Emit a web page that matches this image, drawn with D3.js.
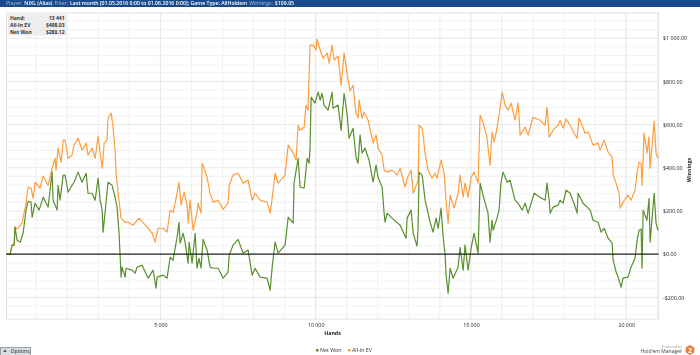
<!DOCTYPE html>
<html>
<head>
<meta charset="utf-8">
<script src="https://cdnjs.cloudflare.com/ajax/libs/d3/7.8.5/d3.min.js"></script>
<style>
  html, body { margin: 0; padding: 0; background: #fff; overflow: hidden; }
  text { font-family: "Open Sans", "DejaVu Sans", sans-serif; }
  #chart { filter: blur(0.3px); }
</style>
</head>
<body>
<svg id="chart"></svg>
<script>
// Values
const netHands = [30,160,225,290,320,385,485,580,675,740,835,870,965,1095,1225,1385,1515,1545,1675,1705,1770,1870,1930,2030,2155,2220,2350,2480,2610,2670,2800,2900,2995,3060,3125,3155,3220,3315,3445,3540,3605,3670,3735,3765,3865,3895,4090,4185,4250,4410,4605,4765,4860,4895,5090,5215,5315,5410,5475,5540,5600,5635,5730,5795,5895,5925,6020,6120,6180,6245,6310,6375,6505,6600,6700,6860,7020,7180,7215,7340,7500,7665,7825,7955,8050,8210,8435,8535,8600,8695,8790,9015,9115,9275,9305,9435,9500,9630,9725,9790,9820,9855,9980,10080,10145,10205,10270,10400,10530,10560,10720,10820,10915,11010,11075,11205,11300,11365,11430,11495,11590,11720,11850,11945,12010,12140,12205,12235,12300,12460,12720,12910,12945,13075,13140,13265,13300,13330,13430,13525,13620,13685,13780,13880,13945,14040,14105,14170,14200,14265,14330,14425,14585,14650,14750,14810,14910,15005,15100,15230,15295,15390,15550,15615,15680,15715,15840,15905,15970,16035,16165,16260,16420,16520,16650,16745,16840,16970,17035,17225,17390,17450,17520,17550,17645,17805,17870,17970,18065,18195,18320,18420,18450,18610,18840,18935,19095,19190,19290,19415,19545,19580,19675,19740,19835,19900,20060,20155,20285,20350,20415,20480,20510,20545,20670,20735,20770,20900,20960,21025];
const netValues = [0,0,42,42,125,65,55,97,204,245,241,171,236,204,264,218,380,250,204,319,250,366,366,287,319,333,380,333,375,282,282,250,352,250,204,102,194,333,319,264,218,97,-106,-60,-106,-65,-74,-88,-60,-51,-111,-74,-157,-106,-97,-111,-14,-28,28,79,148,51,97,56,-42,56,-42,97,-65,-19,-65,69,19,-60,-65,-65,-111,-83,-5,42,69,5,19,-97,-65,-106,-111,-167,-60,56,5,42,171,144,329,444,310,306,444,421,495,727,699,750,713,745,690,667,750,676,690,574,745,653,537,583,449,421,551,468,491,435,333,412,356,310,190,148,190,167,134,74,167,204,97,37,125,380,366,250,190,148,102,167,120,213,79,-5,-97,-181,-65,-111,-60,32,-74,42,-74,28,97,5,329,273,190,56,157,111,167,204,333,380,333,343,250,236,204,236,190,250,282,264,250,329,250,190,218,227,250,236,296,282,236,190,282,236,204,157,148,102,120,74,51,-28,-83,-106,-153,-111,-106,-60,-19,65,111,116,-65,204,157,259,56,282,144,111];

const evHands = [30,160,225,290,320,385,545,675,710,740,835,900,965,1125,1225,1385,1515,1610,1640,1705,1805,1870,1930,2030,2155,2220,2350,2480,2610,2670,2800,2900,2995,3125,3190,3285,3315,3415,3480,3540,3575,3640,3735,3865,3960,4120,4315,4570,4735,4830,4925,5090,5215,5315,5410,5475,5600,5665,5765,5860,5895,5955,6055,6180,6215,6310,6345,6505,6600,6700,6860,7020,7180,7215,7340,7500,7665,7825,7955,8050,8210,8435,8535,8600,8695,8790,9015,9115,9275,9370,9435,9500,9630,9690,9755,9820,9920,10015,10045,10145,10240,10370,10435,10530,10595,10720,10820,10915,11045,11110,11205,11300,11365,11400,11495,11560,11690,11850,11945,12010,12140,12205,12300,12460,12620,12720,12880,12945,13075,13140,13265,13300,13330,13430,13525,13620,13750,13845,13910,14040,14135,14200,14265,14330,14460,14585,14650,14750,14810,14910,15005,15100,15230,15295,15390,15520,15615,15680,15745,15840,15940,16005,16100,16195,16295,16420,16520,16585,16745,16840,17000,17225,17390,17450,17520,17645,17805,17870,17970,18065,18195,18320,18420,18480,18580,18675,18775,18935,19095,19160,19290,19415,19545,19580,19675,19770,19805,19900,20060,20155,20285,20350,20415,20480,20510,20575,20670,20735,20770,20900,20960,21025];
const evValues = [0,0,42,42,125,116,144,236,282,310,306,259,333,306,361,319,398,444,389,491,426,528,528,444,458,505,537,482,514,458,491,444,546,398,514,528,630,653,583,482,375,282,167,148,148,134,167,125,97,56,120,120,102,204,194,236,333,227,287,227,144,250,111,194,236,190,421,356,282,241,250,208,236,319,366,375,329,343,250,282,250,241,190,259,375,329,366,505,468,435,597,574,588,690,667,968,968,945,995,945,907,931,884,968,898,917,782,931,806,755,782,653,630,713,630,657,620,514,551,491,458,389,380,389,366,398,310,352,389,282,329,343,597,583,468,389,352,375,352,435,375,250,144,273,213,282,366,264,329,264,356,380,329,644,611,537,412,565,519,583,676,750,690,667,699,620,699,551,588,551,634,620,597,681,542,574,597,620,583,625,597,560,537,630,597,560,565,505,514,482,528,472,449,366,329,282,213,241,273,250,296,375,426,421,319,560,468,542,398,616,468,444];

const xTicks = [5000, 10000, 15000, 20000];
const yTicks = [-200, 0, 200, 400, 600, 800, 1000];
const xMinor = [1000,2000,3000,4000,6000,7000,8000,9000,11000,12000,13000,14000,16000,17000,18000,19000,21000];
const yMinor = [-280,-240,-160,-120,-80,-40,40,80,120,160,240,280,320,360,440,480,520,560,640,680,720,760,840,880,920,960,1040,1080];

const seriesNames = ['Net Won', 'All-In EV'];
const seriesColors = ['#5a8f2e', '#ff9d3c'];

const headerLabels = ['Player:', 'NIXL (Alias)', 'Filter:', 'Last month [01.05.2016 0:00 to 01.06.2016 0:00]; Game Type: AllHoldem', 'Winnings:', '$109.05'];
const infoLabels = ['Hand:', 'All-In EV', 'Net Won'];
const infoValues = ['13 441', '$498.03', '$280.12'];

const W = 700, H = 355;
const margin = { top: 13, right: 41.5, bottom: 36, left: 6.5 };
const width = W - margin.left - margin.right;
const height = H - margin.top - margin.bottom;

const svg = d3.select('#chart').attr('width', W).attr('height', H);

// Header bar
svg.append('rect').attr('width', W).attr('height', 7).attr('fill', '#1b4a8c');
const headerText = svg.append('text').attr('x', 6).attr('y', 5.2).attr('font-size', 5.2);
headerLabels.forEach((t, i) => {
  headerText.append('tspan')
      .attr('dx', i ? 2 : 0)
      .attr('fill', i % 2 ? '#ffffff' : '#a9bfdc')
      .attr('font-weight', i % 2 ? 600 : 400)
      .text(t);
});

const chart = svg.append('g').attr('transform', `translate(${margin.left},${margin.top})`);

const x = d3.scaleLinear().domain([45, 21040]).range([0, width]);
const y = d3.scaleLinear().domain([-300, 1116.5]).range([height, 0]);

// Grid
chart.append('g').selectAll('line').data(yMinor).join('line')
    .attr('x1', 0).attr('x2', width)
    .attr('y1', d => y(d)).attr('y2', d => y(d))
    .attr('stroke', '#f3f3f3').attr('stroke-width', 1);
chart.append('g').selectAll('line').data(xMinor).join('line')
    .attr('x1', d => x(d)).attr('x2', d => x(d))
    .attr('y1', 0).attr('y2', height)
    .attr('stroke', '#efefef').attr('stroke-width', 1);
chart.append('g').selectAll('line').data(yTicks).join('line')
    .attr('x1', 0).attr('x2', width)
    .attr('y1', d => y(d)).attr('y2', d => y(d))
    .attr('stroke', '#e8e8e8').attr('stroke-width', 1);
chart.append('g').selectAll('line').data(xTicks).join('line')
    .attr('x1', d => x(d)).attr('x2', d => x(d))
    .attr('y1', 0).attr('y2', height)
    .attr('stroke', '#e4e4e4').attr('stroke-width', 1);

// Frame
chart.append('rect').attr('width', width).attr('height', height)
    .attr('fill', 'none').attr('stroke', '#e2e2e2').attr('stroke-width', 1);

// Axes
const fmtHands = d => String(d).replace(/\B(?=(\d{3})+$)/g, ' ');
const fmtMoney = d => (d < 0 ? '-$' : '$') + fmtHands(Math.abs(d)) + '.00';

const xAxis = chart.append('g')
    .attr('transform', `translate(0,${height})`)
    .call(d3.axisBottom(x).tickValues(xTicks).tickFormat(fmtHands).tickSize(0).tickPadding(4.5));
const yAxis = chart.append('g')
    .attr('transform', `translate(${width},0)`)
    .call(d3.axisRight(y).tickValues(yTicks).tickFormat(fmtMoney).tickSize(0).tickPadding(4.5));
[xAxis, yAxis].forEach(a => {
  a.select('.domain').remove();
  a.selectAll('text').attr('font-size', 5.3).attr('fill', '#222')
      .style('font-family', '"Open Sans", sans-serif');
});

// Axis titles
svg.append('text').attr('x', 332.5).attr('y', 335)
    .attr('text-anchor', 'middle').attr('font-size', 5.3).attr('font-weight', 700).attr('fill', '#222')
    .text('Hands');
svg.append('text').attr('transform', 'translate(691,170) rotate(-90)')
    .attr('text-anchor', 'middle').attr('font-size', 5.3).attr('font-weight', 700).attr('fill', '#222')
    .text('Winnings');

// Lines
const line = d3.line().x(d => x(d[0])).y(d => y(d[1]));
const netData = d3.zip(netHands, netValues);
const evData = d3.zip(evHands, evValues);

chart.append('path').datum(evData)
    .attr('d', line).attr('fill', 'none')
    .attr('stroke', seriesColors[1]).attr('stroke-width', 1.2).attr('stroke-linejoin', 'round');
chart.append('path').datum(netData)
    .attr('d', line).attr('fill', 'none')
    .attr('stroke', seriesColors[0]).attr('stroke-width', 1.2).attr('stroke-linejoin', 'round');

// Zero line
chart.append('line')
    .attr('x1', 0).attr('x2', width)
    .attr('y1', y(0)).attr('y2', y(0))
    .attr('stroke', '#222').attr('stroke-width', 1.3);

// Hover info box
const info = svg.append('g').attr('transform', 'translate(7.5,14)');
info.append('rect').attr('width', 59.5).attr('height', 21.5).attr('fill', '#eeeeee');
infoLabels.forEach((t, i) => {
  info.append('text').attr('x', 2.5).attr('y', 5.5 + i * 7)
      .attr('font-size', 5).attr('font-weight', 700).attr('fill', '#333').text(t);
  info.append('text').attr('x', 57).attr('y', 5.5 + i * 7)
      .attr('text-anchor', 'end').attr('font-size', 5).attr('font-weight', 700).attr('fill', '#333')
      .text(infoValues[i]);
});

// Legend
const legendX = [316, 348];
const legend = svg.append('g').selectAll('g').data(seriesNames).join('g')
    .attr('transform', (d, i) => `translate(${legendX[i]},351.5)`);
legend.append('rect').attr('y', -2.5).attr('width', 2.5).attr('height', 2.5)
    .attr('fill', (d, i) => seriesColors[i]);
legend.append('text').attr('x', 4).attr('y', 0.3)
    .attr('font-size', 5.3).attr('fill', '#333').text(d => d);

// Options button
const opt = svg.append('g').attr('transform', 'translate(0,347)');
opt.append('rect').attr('x', 0.5).attr('y', 0.5).attr('width', 30).attr('height', 8)
    .attr('fill', '#d9dde2').attr('stroke', '#9aa0a8');
opt.append('path').attr('d', d3.symbol(d3.symbolTriangle, 4)).attr('transform', 'translate(5,4)').attr('fill', '#444');
opt.append('text').attr('x', 10.5).attr('y', 6.3).attr('font-size', 5.2).attr('fill', '#222').text('Options');

// Powered by
svg.append('text').attr('x', 682).attr('y', 347.5).attr('text-anchor', 'end')
    .attr('font-size', 3.6).attr('fill', '#999').text('Powered by');
svg.append('text').attr('x', 682).attr('y', 353).attr('text-anchor', 'end')
    .attr('font-size', 5).attr('fill', '#444').text("Hold'em Manager");
const hex = d3.range(6).map(i => [690 + 5 * Math.sin(i * Math.PI / 3), 350 + 5 * Math.cos(i * Math.PI / 3)]);
svg.append('polygon').attr('points', hex.join(' ')).attr('fill', '#ef7d3c');
svg.append('text').attr('x', 690).attr('y', 352.6).attr('text-anchor', 'middle')
    .attr('font-size', 7).attr('font-weight', 700).attr('fill', '#fff').text('2');
</script>
</body>
</html>
